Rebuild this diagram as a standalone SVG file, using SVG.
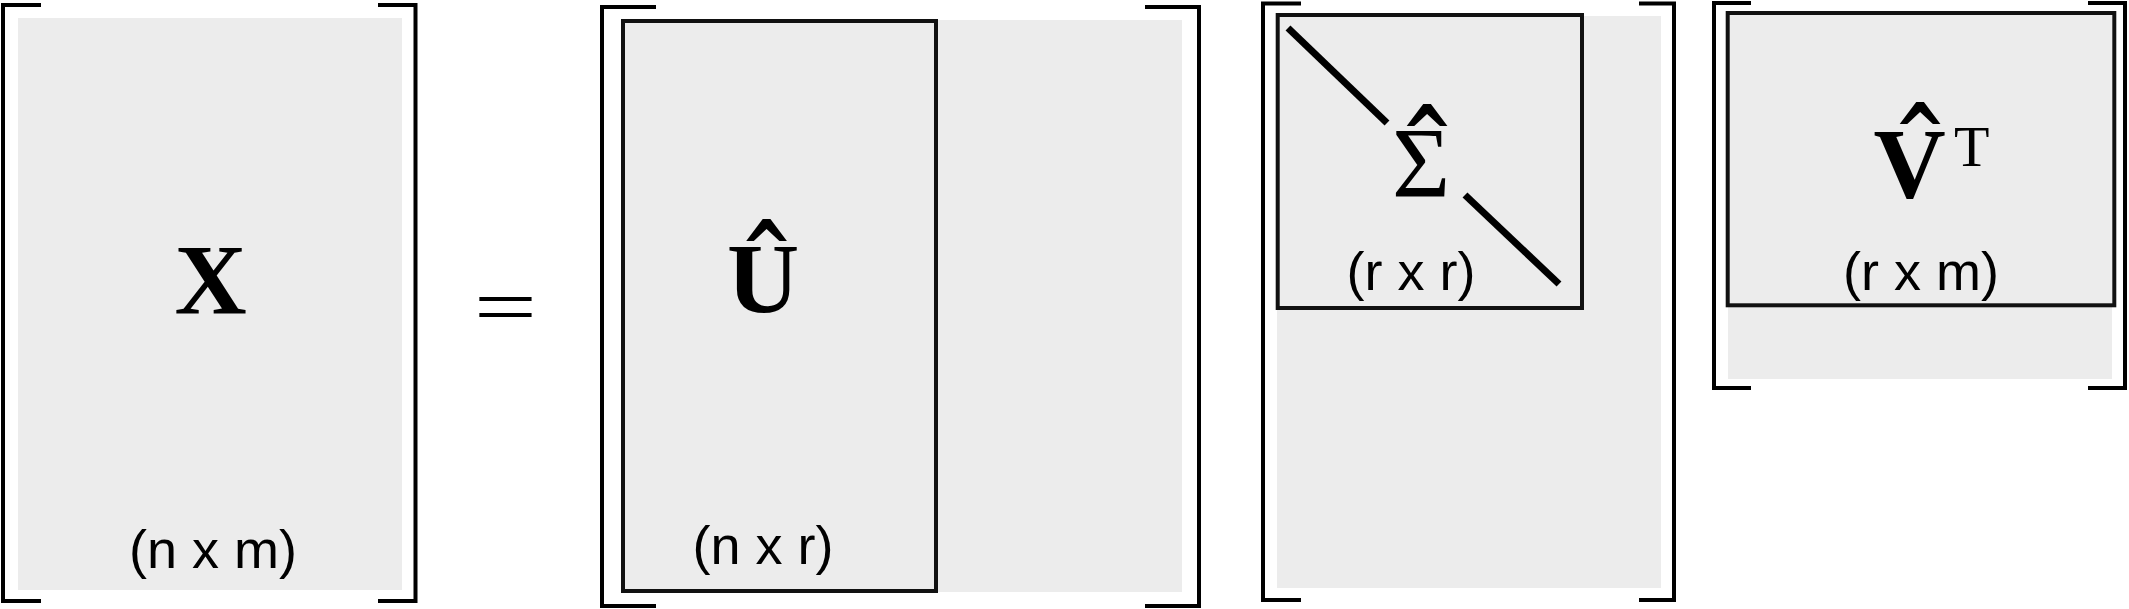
<svg xmlns="http://www.w3.org/2000/svg" width="2129" height="609" viewBox="0 0 2129 609">
<style>
.bg{fill:#ececec;stroke:none}
.br{fill:none;stroke:#000;stroke-width:4;stroke-linejoin:miter;stroke-linecap:butt}
.box{fill:none;stroke:#111;stroke-width:4}
.diag{stroke:#000;stroke-width:7;stroke-linecap:butt}
.sym{font-family:"Liberation Serif","Times New Roman",serif;font-size:100px;fill:#000;text-anchor:middle}
.b{font-weight:bold}
.hat{font-family:"DejaVu Sans",sans-serif;font-weight:bold;font-size:64px;fill:#000;text-anchor:middle}
.sup{font-family:"Liberation Serif","Times New Roman",serif;font-size:58px;font-weight:normal;text-anchor:start}
.dim{font-family:"Liberation Sans",Arial,sans-serif;font-size:54px;fill:#000;text-anchor:middle}
</style>
<rect width="2129" height="609" fill="#fff"/>
<g id="X">
<rect class="bg" x="18" y="18" width="384" height="572"/>
<path class="br" d="M41,5 H3 V601 H41"/>
<path class="br" d="M378,5 H415.5 V601 H378"/>
<text class="sym b" x="210.5" y="313">X</text>
<text class="dim" x="213" y="568">(n x m)</text>
</g>
<g id="equals">
<text class="sym" transform="translate(505.5,333) scale(1.44,1)" x="0" y="0" style="font-size:78px">=</text>
</g>
<g id="U">
<rect class="bg" x="623" y="20" width="559" height="572"/>
<rect class="box" x="623" y="21" width="313" height="570"/>
<path class="br" d="M656,7 H602 V606 H656"/>
<path class="br" d="M1145,7 H1199 V606 H1145"/>
<text class="sym b" x="763" y="312">U</text>
<text class="hat" transform="translate(766.5,278) scale(1,1.25)" x="0" y="0">^</text>
<text class="dim" x="763" y="564">(n x r)</text>
</g>
<g id="Sigma">
<rect class="bg" x="1277" y="16" width="384" height="572"/>
<rect class="box" x="1277.7" y="15" width="304.3" height="293"/>
<path class="br" d="M1301,3.5 H1263 V600 H1301"/>
<path class="br" d="M1639,3.5 H1674 V600 H1639"/>
<line class="diag" x1="1288" y1="28" x2="1387" y2="123"/>
<line class="diag" x1="1465" y1="195" x2="1559" y2="284"/>
<text class="sym" x="1421" y="196">Σ</text>
<text class="hat" transform="translate(1427,163) scale(1,1.25)" x="0" y="0">^</text>
<text class="dim" x="1411" y="290">(r x r)</text>
</g>
<g id="VT">
<rect class="bg" x="1728" y="15" width="384" height="364"/>
<rect class="box" x="1727.7" y="13" width="386.6" height="292.3"/>
<path class="br" d="M1751,3 H1714 V388 H1751"/>
<path class="br" d="M2088,3 H2125 V388 H2088"/>
<text class="sym b" x="1909.5" y="197">V<tspan class="sup" x="1954" y="166">T</tspan></text>
<text class="hat" transform="translate(1920,161) scale(1,1.25)" x="0" y="0">^</text>
<text class="dim" x="1921" y="290">(r x m)</text>
</g>
<g id="connectors"/>
</svg>
